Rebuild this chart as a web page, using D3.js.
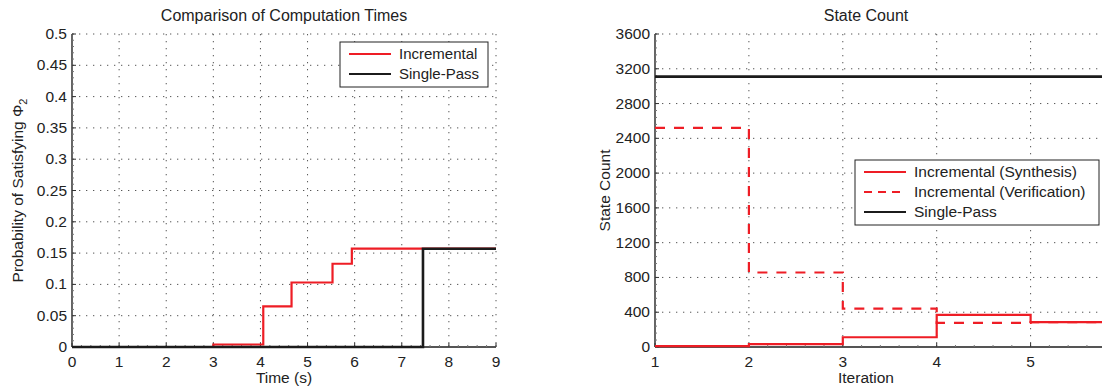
<!DOCTYPE html>
<html>
<head>
<meta charset="utf-8">
<script src="https://cdn.jsdelivr.net/npm/d3@7"></script>
<style>
  body { margin: 0; background: #fff; }
  svg { display: block; font-family: 'Liberation Sans', Arial, sans-serif; }
  .grid line { stroke: #555; stroke-width: 1; stroke-dasharray: 1.3,5.7; }
  .tick-label { font-size: 15.5px; fill: #222; }
</style>
</head>
<body>
<div id="chart"></div>
<script>
// left panel: probability vs time
const timeSteps = [0, 3, 4.06, 4.66, 5.53, 5.94, 9];
const incrementalProb = [0, 0.004, 0.065, 0.103, 0.133, 0.157, 0.157];
const singlePassTime = [0, 7.45, 9];
const singlePassProb = [0, 0.157, 0.157];
const timeTicks = [0, 1, 2, 3, 4, 5, 6, 7, 8, 9];
const probTicks = [0, 0.05, 0.1, 0.15, 0.2, 0.25, 0.3, 0.35, 0.4, 0.45, 0.5];

// right panel: state count per iteration
const iterations = [1, 2, 3, 4, 5, 6];
const synthesisStates = [10, 33, 112, 369, 285, 285];
const verificationStates = [2520, 857, 442, 277, 285, 285];
const singlePassStates = [3110, 3110, 3110, 3110, 3110, 3110];
const iterTicks = [1, 2, 3, 4, 5, 6];
const stateTicks = [0, 400, 800, 1200, 1600, 2000, 2400, 2800, 3200, 3600];

const RED = '#ee1d25';
const BLACK = '#1b1b1b';

const W = 1102, H = 392;
const svg = d3.select('#chart').append('svg')
  .attr('width', W)
  .attr('height', H);

function drawPanel(opts) {
  const { left, right, top, bottom, xDomain, yDomain, xTicks, yTicks, yFormat } = opts;
  const x = d3.scaleLinear().domain(xDomain).range([left, right]);
  const y = d3.scaleLinear().domain(yDomain).range([bottom, top]);

  const g = svg.append('g');
  const clipId = 'clip' + Math.round(left);
  g.append('clipPath').attr('id', clipId)
    .append('rect')
    .attr('x', left - 2).attr('y', top - 2)
    .attr('width', right - left + 4).attr('height', bottom - top + 4);

  // dotted grid
  const grid = g.append('g').attr('class', 'grid');
  grid.selectAll('.gx')
    .data(xTicks.filter(d => d !== xDomain[0]))
    .enter().append('line')
    .attr('x1', d => x(d)).attr('x2', d => x(d))
    .attr('y1', top).attr('y2', bottom);
  grid.selectAll('.gy')
    .data(yTicks.filter(d => d !== yDomain[0]))
    .enter().append('line')
    .attr('x1', left).attr('x2', right)
    .attr('y1', d => y(d)).attr('y2', d => y(d));

  // axis lines
  g.append('line')
    .attr('x1', left).attr('x2', left).attr('y1', top).attr('y2', bottom)
    .attr('stroke', '#555').attr('stroke-width', 1.8);
  g.append('line')
    .attr('x1', left).attr('x2', right).attr('y1', bottom).attr('y2', bottom)
    .attr('stroke', '#555').attr('stroke-width', 1.8);

  // major ticks pointing in, minor ticks in between
  const xStep = xTicks[1] - xTicks[0];
  const yStep = yTicks[1] - yTicks[0];
  const xMinor = d3.range(xDomain[0], xDomain[1] + 1e-9, xStep / 5);
  const yMinor = d3.range(yDomain[0], yDomain[1] + 1e-9, yStep / 5);
  g.selectAll('.mx').data(xMinor).enter().append('line')
    .attr('x1', d => x(d)).attr('x2', d => x(d))
    .attr('y1', bottom).attr('y2', bottom - 2)
    .attr('stroke', '#777');
  g.selectAll('.my').data(yMinor).enter().append('line')
    .attr('x1', left).attr('x2', left + 2)
    .attr('y1', d => y(d)).attr('y2', d => y(d))
    .attr('stroke', '#777');
  g.selectAll('.tx').data(xTicks).enter().append('line')
    .attr('x1', d => x(d)).attr('x2', d => x(d))
    .attr('y1', bottom).attr('y2', bottom - 4)
    .attr('stroke', '#333');
  g.selectAll('.ty').data(yTicks).enter().append('line')
    .attr('x1', left).attr('x2', left + 4)
    .attr('y1', d => y(d)).attr('y2', d => y(d))
    .attr('stroke', '#333');

  g.selectAll('.lx').data(xTicks.filter(d => x(d) < W - 4)).enter().append('text')
    .attr('class', 'tick-label')
    .attr('x', d => x(d)).attr('y', bottom + 20)
    .attr('text-anchor', 'middle')
    .text(d => d);
  g.selectAll('.ly').data(yTicks).enter().append('text')
    .attr('class', 'tick-label')
    .attr('x', left - 5).attr('y', d => y(d) + 5)
    .attr('text-anchor', 'end')
    .text(yFormat);

  const plot = g.append('g').attr('clip-path', `url(#${clipId})`);
  return { x, y, g, plot };
}

function stepLine(plot, x, y, xs, ys, color, width, dash) {
  const line = d3.line()
    .x(d => x(d[0]))
    .y(d => y(d[1]))
    .curve(d3.curveStepAfter);
  plot.append('path')
    .datum(d3.zip(xs, ys))
    .attr('d', line)
    .attr('fill', 'none')
    .attr('stroke', color)
    .attr('stroke-width', width)
    .attr('stroke-dasharray', dash || null);
}

function legend(g, x0, y0, w, items, fs) {
  const rowH = 20;
  const h = items.length * rowH + 5;
  g.append('rect')
    .attr('x', x0).attr('y', y0).attr('width', w).attr('height', h)
    .attr('fill', '#fff').attr('stroke', '#222').attr('stroke-width', 1);
  items.forEach((it, i) => {
    const cy = y0 + 12 + i * rowH;
    g.append('line')
      .attr('x1', x0 + 9).attr('x2', x0 + 51)
      .attr('y1', cy).attr('y2', cy)
      .attr('stroke', it.color).attr('stroke-width', 2)
      .attr('stroke-dasharray', it.dash || null);
    g.append('text')
      .attr('x', x0 + 59).attr('y', cy + 5)
      .attr('font-size', fs).attr('fill', '#222')
      .text(it.label);
  });
}

// ---- left panel
const L = drawPanel({
  left: 72, right: 496, top: 34, bottom: 347,
  xDomain: [0, 9], yDomain: [0, 0.5],
  xTicks: timeTicks, yTicks: probTicks,
  yFormat: d => d === 0 ? '0' : String(+d.toFixed(2))
});
stepLine(L.plot, L.x, L.y, timeSteps, incrementalProb, RED, 2.2);
stepLine(L.plot, L.x, L.y, singlePassTime, singlePassProb, BLACK, 2.6);

L.g.append('text')
  .attr('x', (72 + 496) / 2).attr('y', 21)
  .attr('text-anchor', 'middle').attr('font-size', 16).attr('fill', '#222')
  .text('Comparison of Computation Times');
L.g.append('text')
  .attr('x', (72 + 496) / 2).attr('y', 383)
  .attr('text-anchor', 'middle').attr('font-size', 15.5).attr('fill', '#222')
  .text('Time (s)');
const ylab = L.g.append('text')
  .attr('transform', `translate(23,${(34 + 347) / 2}) rotate(-90)`)
  .attr('text-anchor', 'middle').attr('font-size', 15.5).attr('fill', '#222');
ylab.append('tspan').text('Probability of Satisfying \u03A6');
ylab.append('tspan').attr('font-size', 11).attr('dy', 4).text('2');

legend(L.g, 340, 42, 148, [
  { label: 'Incremental', color: RED },
  { label: 'Single-Pass', color: BLACK }
], 15);

// ---- right panel
const R = drawPanel({
  left: 655, right: 655 + 5 * 93.9, top: 34, bottom: 347,
  xDomain: [1, 6], yDomain: [0, 3600],
  xTicks: iterTicks, yTicks: stateTicks,
  yFormat: d => d
});
stepLine(R.plot, R.x, R.y, iterations, singlePassStates, BLACK, 2.6);
stepLine(R.plot, R.x, R.y, iterations, verificationStates, RED, 2.2, '10,9');
stepLine(R.plot, R.x, R.y, iterations, synthesisStates, RED, 2.2);

R.g.append('text')
  .attr('x', 866).attr('y', 21)
  .attr('text-anchor', 'middle').attr('font-size', 16).attr('fill', '#222')
  .text('State Count');
R.g.append('text')
  .attr('x', 866).attr('y', 383)
  .attr('text-anchor', 'middle').attr('font-size', 15.5).attr('fill', '#222')
  .text('Iteration');
R.g.append('text')
  .attr('transform', `translate(610,${(34 + 347) / 2}) rotate(-90)`)
  .attr('text-anchor', 'middle').attr('font-size', 15.5).attr('fill', '#222')
  .text('State Count');

legend(R.g, 855, 160, 244, [
  { label: 'Incremental (Synthesis)', color: RED },
  { label: 'Incremental (Verification)', color: RED, dash: '8,6' },
  { label: 'Single-Pass', color: BLACK }
], 15.5);
</script>
</body>
</html>
